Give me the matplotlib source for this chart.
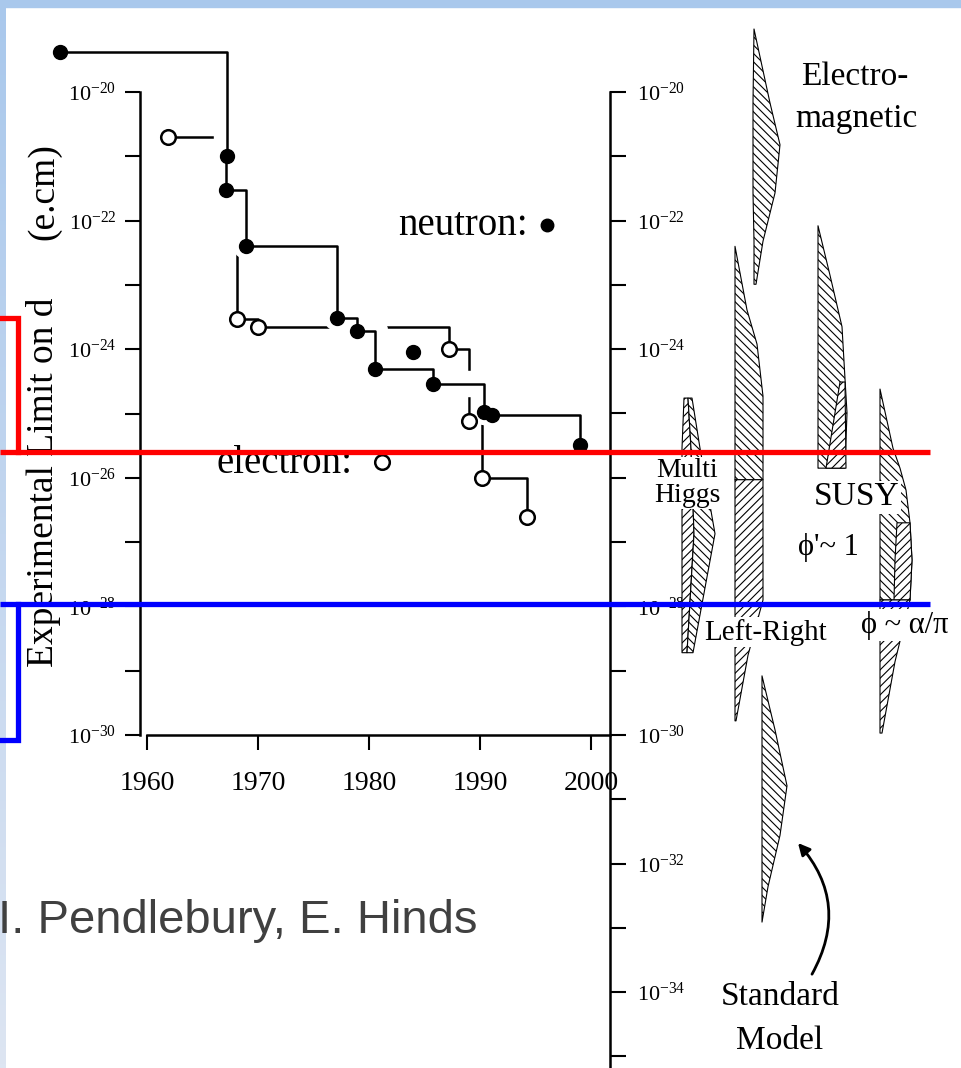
import numpy as np
import matplotlib
matplotlib.use('Agg')
import matplotlib.pyplot as plt
from matplotlib import patheffects as pe
from matplotlib.ticker import NullFormatter

plt.rcParams['font.family'] = ['Liberation Serif', 'DejaVu Serif']
plt.rcParams['mathtext.fontset'] = 'custom'
plt.rcParams['mathtext.rm'] = 'Liberation Serif'
plt.rcParams['hatch.linewidth'] = 0.8

# measured EDM limits, d in e.cm
neutron_year = [1952.2, 1967.2, 1967.1, 1968.9, 1977.1, 1978.9, 1980.5, 1985.8, 1990.4, 1991.1, 1999.0]
neutron_d = [4.2e-20, 1.0e-21, 3.0e-22, 4.0e-23, 3.1e-24, 1.9e-24, 4.9e-25, 2.9e-25, 1.05e-25, 9.5e-26, 3.2e-26]
neutron_extra_year = [1984.0]
neutron_extra_d = [9.1e-25]
electron_year = [1961.9, 1968.1, 1970.0, 1987.2, 1989.0, 1990.2, 1994.2]
electron_d = [2.0e-21, 3.0e-24, 2.2e-24, 1.0e-24, 7.6e-26, 1.0e-26, 2.5e-27]

year_ticks = [1960, 1970, 1980, 1990, 2000]
left_exponents = list(range(-20, -31, -1))
right_exponents = list(range(-20, -36, -1))
right_labelled = [-20, -22, -24, -28, -30, -32, -34]  # 10^-26 is hidden behind "Multi Higgs"

# levels highlighted on the slide
red_level = 2.5e-26
red_bracket_top = 3.1e-24
blue_level = 1.1e-28
blue_bracket_bottom = 8.3e-31

# theory predictions: log10(d) along the column, left / right outline (column units)
em_logd = [-19.02, -20.17, -20.82, -21.57, -22.32, -22.99]
em_left = [754, 753, 753, 753, 754, 754]
em_right = [754, 770, 780, 775, 763, 756]

mh_logd = [-24.76, -25.54, -26.87, -28.72]
mh_left = [684, 682, 682, 682]
mh_mid = [688, 691, 694, 687]
mh_right = [692, 700, 715, 693]

lr_up_logd = [-22.40, -23.39, -23.92, -24.73, -26.03]
lr_up_right = [735, 747, 757, 763, 763]
lr_lo_logd = [-26.03, -27.90, -28.76, -29.78]
lr_lo_right = [763, 763, 748, 736]
lr_left = 735

s1_logd = [-22.08, -22.85, -23.65, -24.46, -24.99, -25.85]
s1_right = [818, 830, 842, 845, 847, 845]
s1_left = 818
s1_over_logd = [-24.51, -25.85]
s1_over_left = [840, 826]
s1_over_right = [845, 846]

s2_logd = [-24.62, -25.54, -25.85, -26.19, -26.70, -27.28, -27.90]
s2_right = [880, 893, 900, 906, 910, 912, 910]
s2_over_logd = [-26.70, -27.28, -27.90]
s2_over_left = [897, 895, 894]
s2_over_right = [910, 912, 910]
s2_lo_logd = [-27.90, -28.86, -29.97]
s2_lo_right = [910, 895, 882]
s2_left = 880

sm_logd = [-29.08, -29.92, -30.79, -31.56, -32.36, -32.91]
sm_right = [762, 775, 787, 780, 768, 762]
sm_left = 762

W, H = 962, 1068
top_exp, bottom_exp = -18.569, -35.179


def frac(x0, y0, x1, y1):
    return [x0 / W, 1 - y1 / H, (x1 - x0) / W, (y1 - y0) / H]


def sci(e):
    return r'$\mathregular{10^{%d}}$' % e


fig = plt.figure(figsize=(9.62, 10.68), dpi=100)

# slide background
ax_bg = fig.add_axes([0, 0, 1, 1], zorder=0)
ax_bg.set_xlim(0, W)
ax_bg.set_ylim(H, 0)
ax_bg.axis('off')
top_col = np.array([0xa9, 0xc8, 0xec]) / 255
bot_col = np.array([0xdd, 0xe5, 0xf2]) / 255
t = np.linspace(0, 1, 256)[:, None, None]
grad = top_col * (1 - t) + bot_col * t
ax_bg.imshow(grad, extent=(0, 6, H, 0), aspect='auto', zorder=0)
ax_bg.add_patch(plt.Rectangle((0, 0), W, 7, color='#a9c8ec', zorder=1))
ax_bg.text(44, 482, 'Experimental Limit on d', rotation=90, ha='center', va='center', fontsize=27)
ax_bg.text(44, 192, '(e.cm)', rotation=90, ha='center', va='center', fontsize=27)
ax_bg.text(478, 933, 'I. Pendlebury, E. Hinds', ha='right', va='baseline', fontsize=34,
           family='Liberation Sans', color='#404040')

# experimental limits
ax = fig.add_axes(frac(140, 92, 610, 735), zorder=3)
ax.patch.set_alpha(0)
ax.set_xlim(1959.37, 2001.71)
ax.set_yscale('log')
ax.set_ylim(1e-30, 1e-20)
for s in ['top', 'right']:
    ax.spines[s].set_visible(False)
ax.spines['left'].set_linewidth(1.8)
ax.spines['bottom'].set_linewidth(1.8)
ax.spines['bottom'].set_bounds(1960, 2001.71)
ax.set_xticks(year_ticks)
ax.set_xticklabels([str(y) for y in year_ticks], fontsize=20)
ax.set_yticks([10.0 ** e for e in left_exponents if e % 2 == 0])
ax.set_yticklabels([sci(e) for e in left_exponents if e % 2 == 0], fontsize=16)
ax.set_yticks([10.0 ** e for e in left_exponents if e % 2 != 0], minor=True)
ax.yaxis.set_minor_formatter(NullFormatter())
ax.tick_params(axis='y', which='both', direction='out', length=11, width=1.5, pad=6)
ax.tick_params(axis='x', direction='out', length=11, width=1.5, pad=15)

# electron steps sit under the neutron steps, which are drawn with a white halo
ax.plot(electron_year, electron_d, drawstyle='steps-post', color='black', lw=1.8,
        clip_on=False, zorder=2)
ax.plot(neutron_year, neutron_d, 'o', ms=10, color='white', mec='white', mew=6,
        clip_on=False, zorder=2.5)
ax.plot(neutron_year, neutron_d, drawstyle='steps-post', color='black', lw=1.8,
        clip_on=False, zorder=3,
        path_effects=[pe.Stroke(linewidth=19, foreground='white'), pe.Normal()])
ax.plot(neutron_year, neutron_d, 'o', ms=10, color='black', clip_on=False, zorder=3.5)
ax.plot(electron_year, electron_d, 'o', ms=10.5, mfc='white', mec='black', mew=1.8,
        clip_on=False, zorder=4)
ax.plot(neutron_extra_year, neutron_extra_d, 'o', ms=10, color='black', clip_on=False, zorder=4)

ax.text(1982.6, 10 ** -22.22, 'neutron:', fontsize=28, ha='left', va='baseline')
ax.plot([1996.0], [10 ** -22.07], 'o', ms=9, color='black', clip_on=False)
ax.text(1966.3, 10 ** -25.93, 'electron:', fontsize=28, ha='left', va='baseline')
ax.plot([1981.2], [10 ** -25.75], 'o', ms=10.5, mfc='white', mec='black', mew=1.8, clip_on=False)

# right-hand d scale
ax_r = fig.add_axes(frac(140, 92, 610, H), zorder=2)
ax_r.patch.set_alpha(0)
ax_r.set_yscale('log')
ax_r.set_ylim(10 ** bottom_exp, 1e-20)
for s in ['top', 'left', 'bottom']:
    ax_r.spines[s].set_visible(False)
ax_r.spines['right'].set_linewidth(1.8)
ax_r.set_xticks([])
ax_r.yaxis.tick_right()
ax_r.set_yticks([10.0 ** e for e in right_exponents])
ax_r.set_yticklabels([sci(e) if e in right_labelled else '' for e in right_exponents], fontsize=16)
ax_r.set_yticks([], minor=True)
ax_r.tick_params(axis='y', direction='out', length=11.5, width=1.5, pad=8)

# theory predictions
ax_t = fig.add_axes(frac(610, 0, W, H), zorder=2)
ax_t.patch.set_alpha(0)
ax_t.set_xlim(610, W)
ax_t.set_yscale('log')
ax_t.set_ylim(10 ** bottom_exp, 10 ** top_exp)
ax_t.axis('off')

BS = '\\\\\\\\'
FS = '////'


def band(logd, left, right, hatch):
    ax_t.fill_betweenx(10.0 ** np.array(logd), left, right, facecolor='white',
                       edgecolor='black', hatch=hatch, linewidth=0.8)


band(em_logd, em_left, em_right, BS)
band(mh_logd, mh_left, mh_mid, FS)
band(mh_logd, mh_mid, mh_right, BS)
band(lr_up_logd, lr_left, lr_up_right, BS)
band(lr_lo_logd, lr_left, lr_lo_right, FS)
band(s1_logd, s1_left, s1_right, BS)
band(s1_over_logd, s1_over_left, s1_over_right, FS)
band(s2_logd, s2_left, s2_right, BS)
band(s2_over_logd, s2_over_left, s2_over_right, FS)
band(s2_lo_logd, s2_left, s2_lo_right, FS)
band(sm_logd, sm_left, sm_right, BS)

ax_t.annotate('', xy=(798, 10 ** -31.68), xytext=(812, 10 ** -33.72),
              arrowprops=dict(arrowstyle='-|>,head_length=0.7,head_width=0.35',
                              connectionstyle='arc3,rad=0.35', color='black', lw=2,
                              shrinkA=0, shrinkB=0))

box = dict(facecolor='white', edgecolor='none', pad=1)
ax_t.text(855, 10 ** -19.77, 'Electro-', fontsize=24, ha='center', va='center')
ax_t.text(856, 10 ** -20.42, 'magnetic', fontsize=24, ha='center', va='center')
ax_t.text(687, 10 ** -26.08, 'Multi\nHiggs', fontsize=20, ha='center', va='center',
          linespacing=1.0, bbox=box)
ax_t.text(857, 10 ** -26.30, 'SUSY', fontsize=24, ha='center', va='center', bbox=box)
ax_t.text(828, 10 ** -27.09, "\u03d5'~ 1", fontsize=22, ha='center', va='center')
ax_t.text(766, 10 ** -28.40, 'Left-Right', fontsize=21, ha='center', va='center', bbox=box)
ax_t.text(905, 10 ** -28.29, '\u03d5 ~ \u03b1/\u03c0', fontsize=22, ha='center', va='center',
          bbox=box)
ax_t.text(780, 10 ** -34.07, 'Standard', fontsize=24, ha='center', va='center')
ax_t.text(780, 10 ** -34.76, 'Model', fontsize=24, ha='center', va='center')

# red / blue highlight marks
ax_o = fig.add_axes([0, 0, 1, 1], zorder=10)
ax_o.patch.set_alpha(0)
ax_o.set_xlim(0, W)
ax_o.set_yscale('log')
ax_o.set_ylim(10 ** bottom_exp, 10 ** top_exp)
ax_o.axis('off')
ax_o.plot([0, 930], [red_level, red_level], color='#ff0000', lw=3.8, solid_capstyle='butt')
ax_o.plot([0, 18, 18], [red_bracket_top, red_bracket_top, red_level], color='#ff0000', lw=3.8,
          solid_joinstyle='miter')
ax_o.plot([0, 930], [blue_level, blue_level], color='#0000ff', lw=3.8, solid_capstyle='butt')
ax_o.plot([18, 18, 0], [blue_level, blue_bracket_bottom, blue_bracket_bottom], color='#0000ff',
          lw=3.8, solid_joinstyle='miter')

fig.savefig('out.png', dpi=100)
